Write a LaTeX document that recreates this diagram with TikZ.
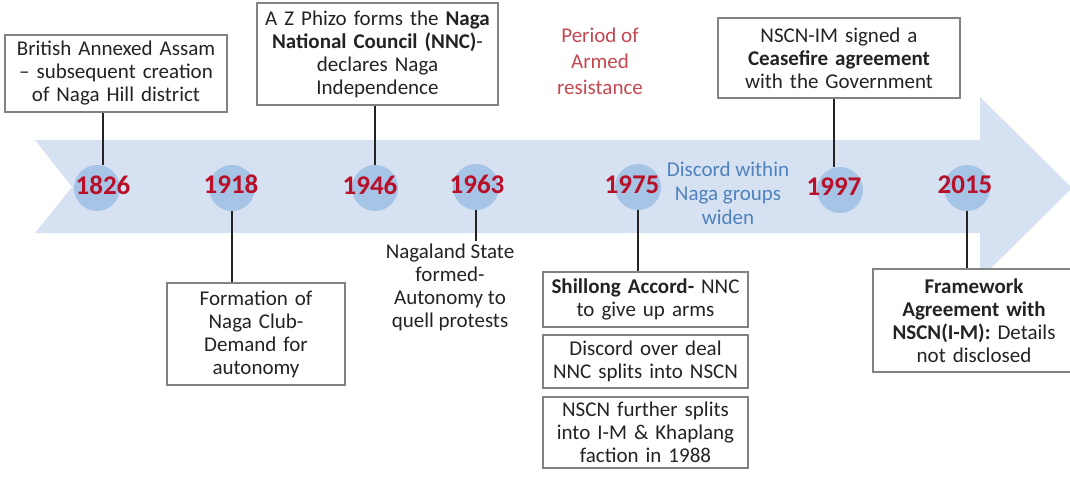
\documentclass[tikz,border=0pt]{standalone}
\usepackage{fontspec}
\setmainfont{Carlito}
\usepackage{tikz}

\definecolor{bandblue}{RGB}{214,226,242}
\definecolor{dotblue}{RGB}{166,196,229}
\definecolor{yearred}{RGB}{184,16,40}
\definecolor{periodred}{RGB}{196,72,82}
\definecolor{discordblue}{RGB}{79,129,189}
\definecolor{boxgray}{RGB}{130,130,130}
\definecolor{textgray}{RGB}{35,35,35}

\begin{document}
\begin{tikzpicture}[x=1pt,y=-1pt,
                        event/.style={draw=boxgray,line width=1.3pt,fill=white,align=center,text=textgray,inner sep=0pt,font=\fontsize{21}{23}\selectfont},
                        plain/.style={align=center,text=textgray,inner sep=3pt,font=\fontsize{21}{23}\selectfont},
                        dot/.style={circle,fill=dotblue,minimum size=46pt,inner sep=0pt},
                        year/.style={text=yearred,inner sep=0pt,font=\bfseries\fontsize{27}{29}\selectfont},
                        link/.style={draw=textgray,line width=2pt}]
                        \useasboundingbox (0,0) rectangle (1070,481);
                        \fill[bandblue] (35,140) -- (980,140) -- (980,97) -- (1072,188) -- (980,279) -- (980,233) -- (35,233) -- (72,187) -- cycle;

                        \node[dot] (d1826) at (97,188) {};
                        \node[year] (y1826) at (103,185) {1826};
                        \node[dot] (d1918) at (232,188) {};
                        \node[year] (y1918) at (231,184) {1918};
                        \node[dot] (d1946) at (375,188) {};
                        \node[year] (y1946) at (370,185) {1946};
                        \node[dot] (d1963) at (476,187) {};
                        \node[year] (y1963) at (477,184) {1963};
                        \node[dot] (d1975) at (638,187) {};
                        \node[year] (y1975) at (632,185) {1975};
                        \node[dot] (d1997) at (840,190) {};
                        \node[year] (y1997) at (834,187) {1997};
                        \node[dot] (d2015) at (967,188) {};
                        \node[year] (y2015) at (965,185) {2015};

                        \node[event,minimum width=222pt,minimum height=77pt,text width=214pt] (e1826) at (116,73.5) {British Annexed Assam\\– subsequent creation\\of Naga Hill district};
                        \node[event,minimum width=241pt,minimum height=102pt,text width=235pt] (e1946) at (377.5,54) {A Z Phizo forms the \textbf{Naga}\\\textbf{National Council (NNC)}-\\declares Naga\\Independence};
                        \node[event,minimum width=242pt,minimum height=80pt,text width=234pt] (e1997) at (839,58) {NSCN-IM signed a\\\textbf{Ceasefire agreement}\\with the Government};
                        \node[event,minimum width=178pt,minimum height=102pt,text width=170pt] (e1918) at (256,334) {Formation of\\Naga Club-\\Demand for\\autonomy};
                        \node[plain,anchor=north] (t1963) at (450,241) {Nagaland State\\formed-\\Autonomy to\\quell protests};
                        \node[event,minimum width=205pt,minimum height=55pt,text width=199pt] (e1975a) at (645.5,299.5) {\textbf{Shillong Accord-} NNC\\to give up arms};
                        \node[event,minimum width=205pt,minimum height=53pt,text width=199pt] (e1975b) at (645.5,361.5) {Discord over deal\\NNC splits into NSCN};
                        \node[event,minimum width=205pt,minimum height=71pt,text width=199pt] (e1975c) at (645.5,432.5) {NSCN further splits\\into I-M \& Khaplang\\faction in 1988};
                        \node[event,minimum width=202pt,minimum height=103pt,text width=192pt] (e2015) at (974,320.5) {\textbf{Framework}\\\textbf{Agreement with}\\\textbf{NSCN(I-M):} Details\\not disclosed};

                        \node[align=center,text=periodred,font=\fontsize{21}{26}\selectfont] (armed) at (600,61) {Period of\\Armed\\resistance};
                        \node[align=center,text=discordblue,font=\fontsize{21}{24}\selectfont] (discord) at (728,193) {Discord within\\Naga groups\\widen};

                        \draw[link] (e1826.south -| y1826) -- (y1826 |- d1826.north);
                        \draw[link] (e1946.south -| d1946) -- (d1946.north);
                        \draw[link] (e1997.south -| y1997) -- (y1997 |- d1997.north);
                        \draw[link] (d1918.south) -- (e1918.north -| d1918);
                        \draw[link] (d1963.south) -- (t1963.north -| d1963);
                        \draw[link] (d1975.south) -- (e1975a.north -| d1975);
                        \draw[link] (d2015.south) -- (e2015.north -| d2015);
                    \end{tikzpicture}
\end{document}
